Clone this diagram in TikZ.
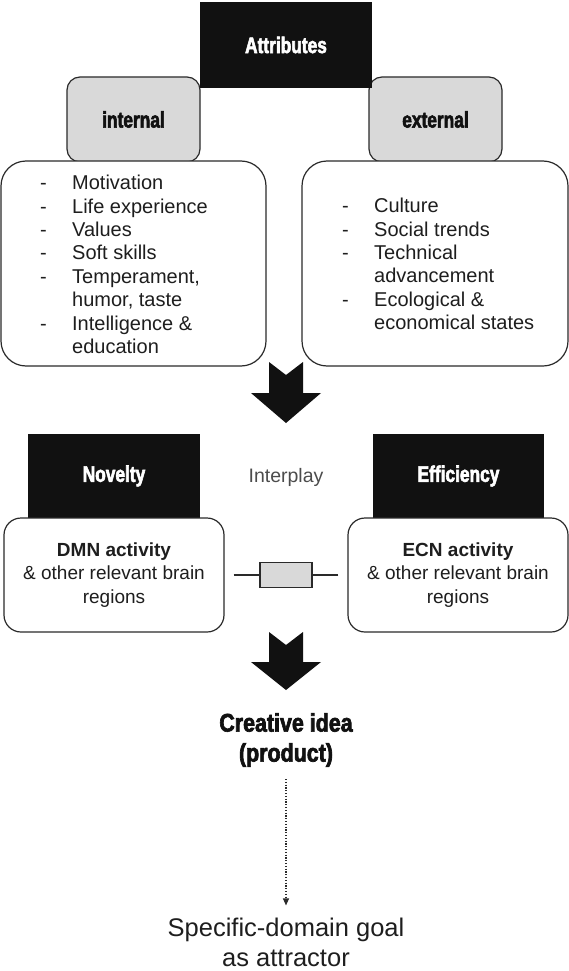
\documentclass[tikz,border=0pt]{standalone}
\usepackage{fontspec}
\setmainfont{Liberation Sans}
\newfontfamily\headfont[FakeStretch=0.77,FakeBold=2.5]{Liberation Sans Bold}
\newfontfamily\ideafont[FakeStretch=0.84,FakeBold=2.5]{Liberation Sans Bold}
\usetikzlibrary{arrows.meta}

\definecolor{inkblack}{HTML}{111111}
\definecolor{tabgray}{HTML}{D9D9D9}
\definecolor{linegray}{HTML}{2A2A2A}
\definecolor{textgray}{HTML}{1E1E1E}

\newcommand{\itemdash}{\makebox[32pt][l]{-}}

\begin{document}
\begin{tikzpicture}[x=1pt, y=-1pt, >=Stealth,
  blackbox/.style={fill=inkblack, text=white, inner sep=0pt,
    font=\headfont\fontsize{22.5}{26}\selectfont},
  graytab/.style={draw=linegray, line width=1.2pt, fill=tabgray,
    rounded corners=13pt, inner sep=0pt, text=inkblack,
    font=\headfont\fontsize{22.5}{26}\selectfont},
  roundbox/.style={draw=linegray, line width=1.2pt, fill=white, inner sep=0pt},
  listtext/.style={align=left, inner sep=0pt, text=textgray,
    font=\fontsize{20}{23.4}\selectfont},
  braintext/.style={align=center, text=textgray,
    font=\fontsize{19}{23.5}\selectfont},
  bigarrow/.style={fill=inkblack}]

\useasboundingbox (0,0) rectangle (569,971);

% Attributes: tabs first, black header on top
\node[graytab, minimum width=133pt, minimum height=85pt] (internal) at (133.5,119.5) {internal};
\node[graytab, minimum width=133pt, minimum height=85pt] (external) at (435.5,119.5) {external};
\node[blackbox, minimum width=172pt, minimum height=86pt] (attributes) at (286,45) {Attributes};

% List boxes
\node[roundbox, rounded corners=25pt, minimum width=265pt, minimum height=205pt] (intbox) at (133.5,263.5) {};
\node[roundbox, rounded corners=25pt, minimum width=266pt, minimum height=205pt] (extbox) at (435,263.5) {};

\node[listtext, anchor=north west] (intlist) at (40,175) {%
  \itemdash Motivation\\
  \itemdash Life experience\\
  \itemdash Values\\
  \itemdash Soft skills\\
  \itemdash Temperament,\\
  \hspace*{32pt}humor, taste\\
  \itemdash Intelligence \&\\
  \hspace*{32pt}education};
\node[listtext, anchor=north west] (extlist) at (342,198) {%
  \itemdash Culture\\
  \itemdash Social trends\\
  \itemdash Technical\\
  \hspace*{32pt}advancement\\
  \itemdash Ecological \&\\
  \hspace*{32pt}economical states};

% Big arrow down
\begin{scope}[shift={(286,362)}]
  \fill[bigarrow] (-17,0) -- (0,13) -- (17,0) -- (17,31) -- (35,31)
    -- (0,61) -- (-35,31) -- (-17,31) -- cycle;
\end{scope}

% Interplay row
\node[blackbox, minimum width=172pt, minimum height=84pt] (novelty) at (114,476) {Novelty};
\node[blackbox, minimum width=171pt, minimum height=84pt] (efficiency) at (458.5,476) {Efficiency};
\node[text=black!70, font=\fontsize{19.5}{23}\selectfont] (interplay) at (286,477) {Interplay};

\node[roundbox, rounded corners=17pt, minimum width=220pt, minimum height=114pt,
  braintext] (dmn) at (114,575) {\textbf{DMN activity}\\\& other relevant brain\\regions};
\node[roundbox, rounded corners=17pt, minimum width=220pt, minimum height=114pt,
  braintext] (ecn) at (458,575) {\textbf{ECN activity}\\\& other relevant brain\\regions};

\node[draw=linegray, line width=1.2pt, fill=tabgray, minimum width=52pt,
  minimum height=25pt, inner sep=0pt] (link) at (286,575) {};
\draw[linegray, line width=1.2pt, shorten <=9pt] (dmn) -- (link);
\draw[linegray, line width=1.2pt, shorten <=9pt] (ecn) -- (link);

% Big arrow down
\begin{scope}[shift={(286,632)}]
  \fill[bigarrow] (-17,0) -- (0,13) -- (17,0) -- (17,30) -- (35,30)
    -- (0,58) -- (-35,30) -- (-17,30) -- cycle;
\end{scope}

% Outcome
\node[align=center, inner sep=0pt, text=inkblack,
  font=\ideafont\fontsize{25.5}{30}\selectfont] (idea) at (286,740) {Creative idea\\(product)};
\node[align=center, inner sep=0pt, text=textgray,
  font=\fontsize{25.5}{30}\selectfont] (goal) at (286,942) {Specific-domain goal\\as attractor};

\draw[linegray, line width=1.2pt, dash pattern=on 1.2pt off 1.6pt,
  -{Triangle[length=7pt, width=6pt]},
  shorten <=12pt, shorten >=12pt] (idea) -- (goal);

\end{tikzpicture}
\end{document}
